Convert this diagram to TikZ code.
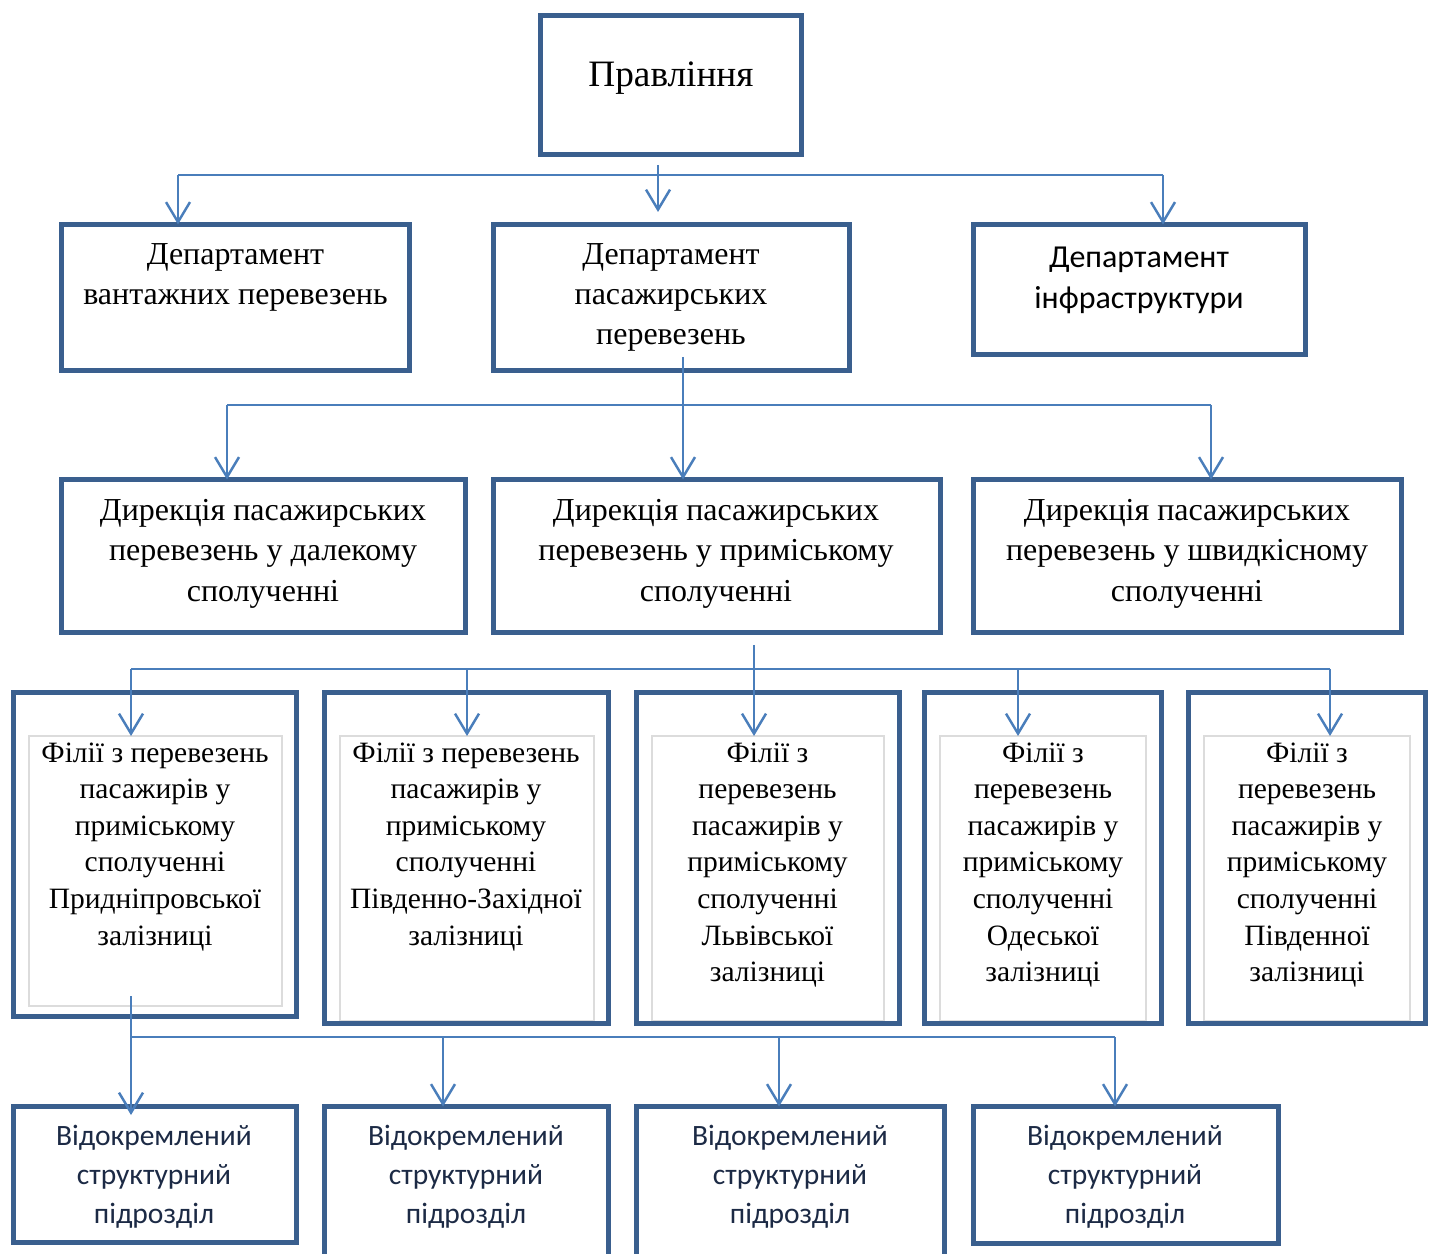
\documentclass[tikz,border=0pt]{standalone}
\usepackage{fontspec}
\setmainfont{Liberation Serif}
\newfontfamily\calibrifont{Carlito}
\usepackage{xcolor}
\usetikzlibrary{positioning,arrows.meta}

\definecolor{boxblue}{HTML}{3A5F8E}
\definecolor{linkblue}{HTML}{4A7EBB}
\definecolor{paleline}{HTML}{DCDCDC}
\definecolor{navytext}{HTML}{1C2A45}

\tikzset{
  orgbox/.style={draw=boxblue,line width=1.45pt,rectangle,inner sep=0pt,outer sep=0pt},
  innerbox/.style={draw=paleline,line width=0.4pt,rectangle,inner sep=0pt,outer sep=0pt},
  headtext/.style={inner sep=0pt,font=\fontsize{10.6}{13}\selectfont},
  bodytext/.style={inner sep=0pt,align=center,anchor=north,font=\fontsize{9.1}{11.4}\selectfont},
  sanstext/.style={inner sep=0pt,align=center,anchor=north,font=\calibrifont\fontsize{9.1}{11.8}\selectfont},
  branchtext/.style={inner sep=0pt,align=center,anchor=north,font=\fontsize{8.4}{10.4}\selectfont},
  unittext/.style={inner sep=0pt,align=center,anchor=north,text=navytext,font=\calibrifont\fontsize{8.4}{11.1}\selectfont},
  link/.style={draw=linkblue,line width=0.7pt},
  linkarrow/.style={link,-{Straight Barb[length=2mm,width=2.4mm]}}
}

\begin{document}
\begin{tikzpicture}
\useasboundingbox (0,0) rectangle (14.35,-12.54);

% top
\node[orgbox,minimum width=2.61cm,minimum height=1.39cm] (board) at (6.71,-0.85) {};
\node[headtext] (tboard) at (6.71,-0.78) {Правління};

% departments
\node[orgbox,minimum width=3.48cm,minimum height=1.46cm] (freight) at (2.355,-2.975) {};
\node[bodytext] (tfreight) at (2.355,-2.43) {Департамент\\вантажних перевезень};
\node[orgbox,minimum width=3.56cm,minimum height=1.46cm] (passenger) at (6.715,-2.975) {};
\node[bodytext] (tpassenger) at (6.71,-2.43) {Департамент\\пасажирських\\перевезень};
\node[orgbox,minimum width=3.32cm,minimum height=1.30cm] (infra) at (11.395,-2.895) {};
\node[sanstext] (tinfra) at (11.39,-2.46) {Департамент\\інфраструктури};

% directorates
\node[orgbox,minimum width=4.04cm,minimum height=1.53cm] (longdist) at (2.635,-5.56) {};
\node[bodytext] (tlongdist) at (2.63,-4.99) {Дирекція пасажирських\\перевезень у далекому\\сполученні};
\node[orgbox,minimum width=4.47cm,minimum height=1.53cm] (suburb) at (7.17,-5.56) {};
\node[bodytext] (tsuburb) at (7.16,-4.99) {Дирекція пасажирських\\перевезень у приміському\\сполученні};
\node[orgbox,minimum width=4.28cm,minimum height=1.53cm] (highspeed) at (11.875,-5.56) {};
\node[bodytext] (thighspeed) at (11.87,-4.99) {Дирекція пасажирських\\перевезень у швидкісному\\сполученні};

% branches
\node[innerbox,minimum width=2.53cm,minimum height=2.70cm] (in1) at (1.555,-8.71) {};
\node[innerbox,minimum width=2.54cm,minimum height=2.85cm] (in2) at (4.67,-8.785) {};
\node[innerbox,minimum width=2.32cm,minimum height=2.85cm] (in3) at (7.68,-8.785) {};
\node[innerbox,minimum width=2.06cm,minimum height=2.85cm] (in4) at (10.43,-8.785) {};
\node[innerbox,minimum width=2.06cm,minimum height=2.85cm] (in5) at (13.07,-8.785) {};
\node[orgbox,minimum width=2.83cm,minimum height=3.24cm] (br1) at (1.55,-8.545) {};
\node[orgbox,minimum width=2.84cm,minimum height=3.31cm] (br2) at (4.665,-8.58) {};
\node[orgbox,minimum width=2.63cm,minimum height=3.31cm] (br3) at (7.68,-8.58) {};
\node[orgbox,minimum width=2.37cm,minimum height=3.31cm] (br4) at (10.43,-8.58) {};
\node[orgbox,minimum width=2.37cm,minimum height=3.31cm] (br5) at (13.07,-8.58) {};
\node[branchtext] (tbr1) at (1.55,-7.42) {Філії з перевезень\\пасажирів у\\приміському\\сполученні\\Придніпровської\\залізниці};
\node[branchtext] (tbr2) at (4.66,-7.42) {Філії з перевезень\\пасажирів у\\приміському\\сполученні\\Південно-Західної\\залізниці};
\node[branchtext] (tbr3) at (7.675,-7.42) {Філії з\\перевезень\\пасажирів у\\приміському\\сполученні\\Львівської\\залізниці};
\node[branchtext] (tbr4) at (10.43,-7.42) {Філії з\\перевезень\\пасажирів у\\приміському\\сполученні\\Одеської\\залізниці};
\node[branchtext] (tbr5) at (13.07,-7.42) {Філії з\\перевезень\\пасажирів у\\приміському\\сполученні\\Південної\\залізниці};

% separate units
\node[orgbox,minimum width=2.83cm,minimum height=1.36cm] (unit1) at (1.55,-11.745) {};
\node[orgbox,minimum width=2.84cm,minimum height=1.735cm] (unit2) at (4.665,-11.9325) {};
\node[orgbox,minimum width=3.08cm,minimum height=1.735cm] (unit3) at (7.905,-11.9325) {};
\node[orgbox,minimum width=3.05cm,minimum height=1.37cm] (unit4) at (11.26,-11.75) {};
\node[unittext] (tunit1) at (1.54,-11.24) {Відокремлений\\структурний\\підрозділ};
\node[unittext] (tunit2) at (4.66,-11.24) {Відокремлений\\структурний\\підрозділ};
\node[unittext] (tunit3) at (7.90,-11.24) {Відокремлений\\структурний\\підрозділ};
\node[unittext] (tunit4) at (11.25,-11.24) {Відокремлений\\структурний\\підрозділ};

% links: board -> departments
\coordinate (boardout) at (6.58,-1.65);
\coordinate (busAL) at (1.78,-1.75);
\coordinate (busAR) at (11.63,-1.75);
\draw[linkarrow] (boardout) -- ([yshift=0.125cm]boardout |- passenger.north);
\draw[link] (busAL) -- (busAR);
\draw[linkarrow] (busAL) -- (busAL |- freight.north);
\draw[linkarrow] (busAR) -- (busAR |- infra.north);

% links: passenger dept -> directorates
\coordinate (passout) at (6.83,-3.57);
\coordinate (busBL) at (2.27,-4.05);
\coordinate (busBR) at (12.11,-4.05);
\draw[link] (busBL) -- (busBR);
\draw[linkarrow] (passout) -- (passout |- suburb.north);
\draw[linkarrow] (busBL) -- (busBL |- longdist.north);
\draw[linkarrow] (busBR) -- (busBR |- highspeed.north);

% links: suburban directorate -> branches
\coordinate (suburbout) at (7.54,-6.45);
\coordinate (busCL) at (1.31,-6.69);
\coordinate (busCR) at (13.30,-6.69);
\coordinate (busC2) at (4.67,-6.69);
\coordinate (busC4) at (10.18,-6.69);
\draw[link] (busCL) -- (busCR);
\draw[linkarrow] (suburbout) -- (suburbout |- in3.north);
\draw[linkarrow] (busCL) -- (busCL |- in1.north);
\draw[linkarrow] (busC2) -- (busC2 |- in2.north);
\draw[linkarrow] (busC4) -- (busC4 |- in4.north);
\draw[linkarrow] (busCR) -- (busCR |- in5.north);

% links: branch -> units
\coordinate (branchout) at (1.31,-9.96);
\coordinate (busD2) at (4.43,-10.37);
\coordinate (busD3) at (7.79,-10.37);
\coordinate (busDR) at (11.15,-10.37);
\draw[link] (branchout |- busDR) -- (busDR);
\draw[linkarrow] (branchout) -- ([yshift=-0.085cm]branchout |- unit1.north);
\draw[linkarrow] (busD2) -- (busD2 |- unit2.north);
\draw[linkarrow] (busD3) -- (busD3 |- unit3.north);
\draw[linkarrow] (busDR) -- (busDR |- unit4.north);
\end{tikzpicture}
\end{document}
